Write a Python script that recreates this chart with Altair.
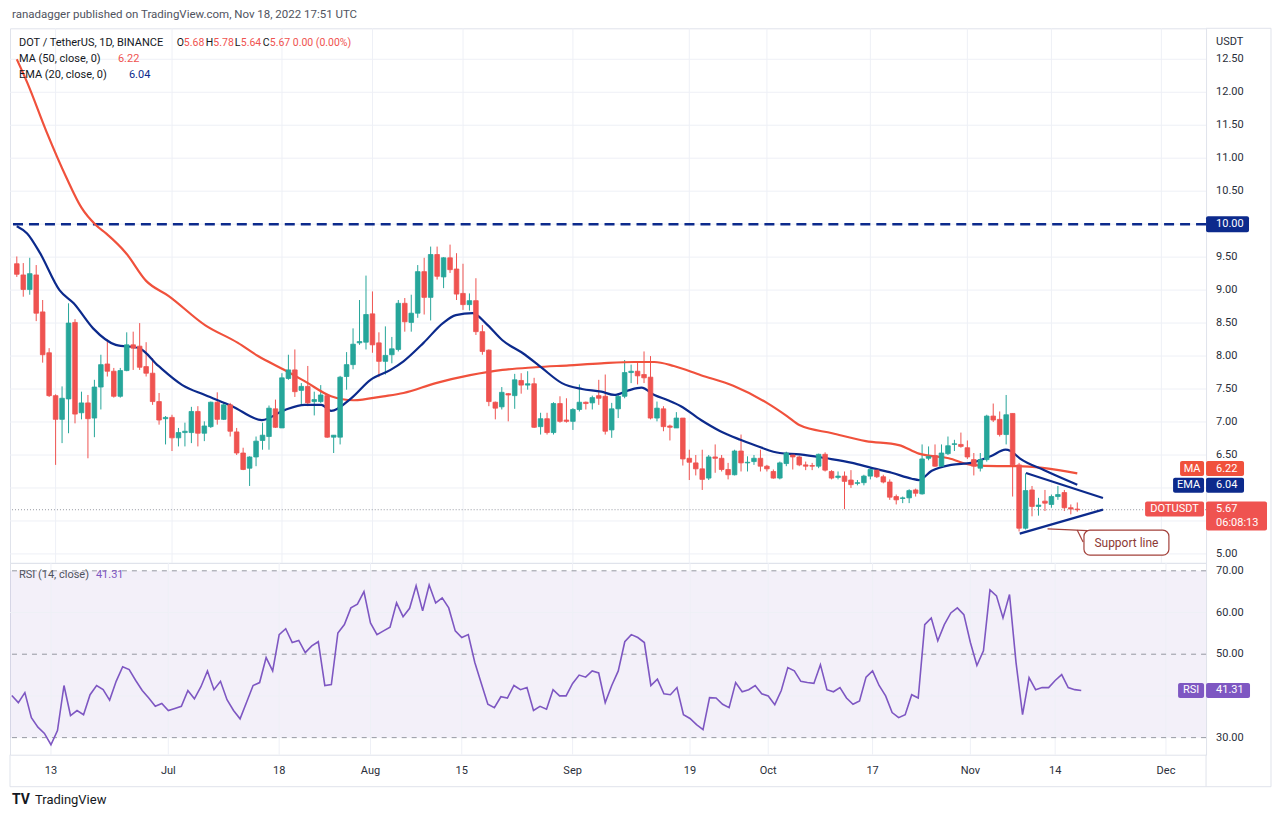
import altair as alt
import pandas as pd
import numpy as np

FONT = "Roboto"
GREEN = "#26a69a"
RED = "#ef5350"
MA_C = "#f0513c"
NAVY = "#0c2a8c"
PURPLE = "#7e57c2"
TXT = "#131722"
AXT = "#2a2e39"
FRAME = "#e0e3eb"
GRID = "#eef0f6"

START = "2022-06-07"

opens = [9.40, 9.23, 9.01, 9.23, 8.67, 8.05, 7.40, 7.04, 7.35, 8.51,
         7.14, 7.29, 7.06, 7.53, 7.88, 7.77, 7.39, 7.78, 8.17, 8.15,
         7.84, 7.74, 7.31, 7.05, 7.07, 6.76, 6.84, 6.84, 7.16, 6.83,
         6.93, 7.30, 7.04, 7.26, 6.85, 6.53, 6.30, 6.47, 6.72, 6.78,
         7.20, 6.91, 7.66, 7.79, 7.48, 7.54, 7.31, 7.31, 7.40, 6.77,
         6.77, 7.69, 7.87, 8.20, 8.21, 8.64, 8.20, 7.92, 8.02, 8.10,
         8.80, 8.51, 8.65, 9.28, 8.89, 9.54, 9.20, 9.49, 9.32, 8.95,
         8.78, 8.84, 8.37, 8.09, 7.30, 7.23, 7.43, 7.40, 7.63, 7.56,
         7.58, 6.93, 7.05, 6.84, 7.28, 7.03, 7.01, 7.19, 7.30, 7.29,
         7.40, 7.39, 6.88, 7.20, 7.39, 7.75, 7.77, 7.72, 7.68, 7.06,
         7.20, 6.94, 6.91, 7.06, 6.45, 6.38, 6.29, 6.15, 6.47, 6.45,
         6.28, 6.20, 6.56, 6.38, 6.40, 6.45, 6.33, 6.25, 6.15, 6.37,
         6.50, 6.47, 6.35, 6.34, 6.33, 6.51, 6.25, 6.16, 6.18, 6.12,
         6.07, 6.08, 6.18, 6.27, 6.17, 6.09, 5.87, 5.84, 5.85, 5.97,
         5.91, 6.45, 6.49, 6.33, 6.52, 6.66, 6.66, 6.61, 6.43, 6.30,
         6.43, 7.09, 7.04, 6.81, 7.13, 6.35, 5.39, 5.97, 5.72, 5.80,
         5.75, 5.87, 5.93, 5.70, 5.68]
highs = [9.51, 9.41, 9.49, 9.38, 8.85, 8.12, 7.42, 7.54, 8.80, 8.56,
         7.46, 7.41, 7.64, 8.02, 8.25, 7.82, 7.82, 8.36, 8.37, 8.50,
         8.21, 7.97, 7.44, 7.09, 7.11, 6.91, 6.99, 7.23, 7.24, 7.01,
         7.31, 7.45, 7.29, 7.29, 6.91, 6.61, 6.48, 6.78, 6.99, 7.25,
         7.34, 7.74, 8.02, 8.10, 7.59, 7.85, 7.46, 7.56, 7.41, 6.80,
         7.70, 8.06, 8.42, 8.85, 9.22, 8.98, 8.36, 8.45, 8.29, 8.85,
         8.88, 8.93, 9.38, 9.49, 9.66, 9.66, 9.50, 9.69, 9.56, 9.40,
         8.95, 9.18, 8.47, 8.10, 7.31, 7.53, 7.44, 7.73, 7.74, 7.77,
         7.67, 7.14, 7.14, 7.30, 7.39, 7.36, 7.21, 7.57, 7.31, 7.40,
         7.64, 7.72, 7.29, 7.44, 7.94, 7.87, 7.92, 8.07, 8.00, 7.31,
         7.24, 6.96, 7.15, 7.06, 6.58, 6.50, 6.58, 6.50, 6.66, 6.50,
         6.38, 6.58, 6.81, 6.48, 6.50, 6.58, 6.35, 6.28, 6.40, 6.55,
         6.53, 6.49, 6.40, 6.38, 6.52, 6.54, 6.27, 6.25, 6.25, 6.27,
         6.12, 6.20, 6.30, 6.30, 6.20, 6.13, 5.90, 5.87, 5.98, 5.99,
         6.66, 6.63, 6.66, 6.66, 6.78, 6.73, 6.84, 6.72, 6.53, 6.53,
         7.11, 7.28, 7.16, 7.41, 7.13, 6.38, 6.22, 6.03, 5.85, 5.97,
         5.90, 6.03, 5.97, 5.75, 5.78]
lows = [9.20, 8.90, 8.93, 8.53, 7.90, 7.38, 6.35, 6.68, 6.83, 6.98,
        7.04, 6.45, 6.77, 7.19, 7.69, 7.37, 7.37, 7.77, 7.79, 7.79,
        7.69, 7.26, 6.96, 6.66, 6.56, 6.63, 6.63, 6.68, 6.63, 6.71,
        6.91, 6.96, 7.03, 6.78, 6.50, 6.27, 6.03, 6.33, 6.58, 6.58,
        6.91, 6.91, 7.64, 7.38, 7.25, 7.24, 7.10, 7.29, 6.76, 6.53,
        6.66, 7.49, 7.80, 8.17, 8.10, 8.05, 7.68, 7.72, 7.89, 8.07,
        8.37, 8.37, 8.58, 8.63, 8.54, 9.16, 9.03, 9.26, 8.85, 8.70,
        8.69, 8.32, 8.02, 7.24, 7.04, 7.19, 7.01, 7.20, 7.43, 7.49,
        6.91, 6.81, 6.81, 6.81, 6.99, 6.99, 6.88, 7.16, 7.19, 7.19,
        7.26, 6.81, 6.76, 7.06, 7.36, 7.59, 7.57, 7.59, 7.04, 7.01,
        6.86, 6.72, 6.91, 6.34, 6.12, 6.19, 5.97, 6.12, 6.23, 6.25,
        6.13, 6.19, 6.25, 6.25, 6.35, 6.25, 6.25, 6.14, 6.13, 6.33,
        6.28, 6.33, 6.27, 6.27, 6.30, 6.25, 6.13, 6.13, 5.68, 6.00,
        6.04, 6.04, 6.13, 6.15, 6.07, 5.82, 5.75, 5.77, 5.77, 5.87,
        5.90, 6.42, 6.32, 6.32, 6.50, 6.56, 6.61, 6.44, 6.19, 6.25,
        6.40, 7.00, 6.78, 6.66, 5.87, 5.34, 5.37, 5.57, 5.58, 5.65,
        5.70, 5.82, 5.65, 5.60, 5.64]
closes = [9.24, 9.01, 9.25, 8.65, 8.02, 7.40, 7.04, 7.36, 8.50, 7.12,
          7.29, 7.05, 7.53, 7.87, 7.77, 7.39, 7.78, 8.17, 8.12, 7.83,
          7.74, 7.31, 7.03, 7.07, 6.76, 6.84, 6.86, 7.16, 6.83, 6.94,
          7.30, 7.04, 7.26, 6.86, 6.53, 6.28, 6.47, 6.71, 6.80, 7.21,
          6.92, 7.67, 7.79, 7.46, 7.54, 7.29, 7.34, 7.41, 6.77, 6.80,
          7.68, 7.87, 8.18, 8.22, 8.63, 8.17, 7.92, 8.01, 8.11, 8.80,
          8.52, 8.65, 9.28, 8.89, 9.54, 9.21, 9.49, 9.31, 8.94, 8.78,
          8.84, 8.37, 8.07, 7.31, 7.21, 7.45, 7.41, 7.64, 7.56, 7.58,
          6.92, 7.05, 6.84, 7.28, 7.01, 7.01, 7.19, 7.30, 7.28, 7.37,
          7.36, 6.86, 7.20, 7.39, 7.75, 7.77, 7.70, 7.67, 7.06, 7.21,
          6.93, 6.92, 7.06, 6.44, 6.39, 6.29, 6.13, 6.47, 6.45, 6.28,
          6.20, 6.56, 6.38, 6.39, 6.45, 6.33, 6.29, 6.15, 6.38, 6.53,
          6.47, 6.35, 6.33, 6.33, 6.51, 6.27, 6.15, 6.18, 6.10, 6.05,
          6.08, 6.18, 6.28, 6.17, 6.09, 5.86, 5.82, 5.85, 5.96, 5.92,
          6.44, 6.48, 6.33, 6.53, 6.64, 6.67, 6.63, 6.47, 6.33, 6.43,
          7.09, 7.03, 6.81, 7.11, 6.35, 5.39, 5.96, 5.72, 5.74, 5.77,
          5.87, 5.90, 5.70, 5.68, 5.67]
rsi_vals = [40.1, 38.4, 40.8, 34.8, 32.5, 31.0, 28.3, 31.7, 42.5, 35.3,
            36.5, 35.5, 40.3, 42.5, 41.5, 39.0, 43.5, 47.0, 46.3, 43.7,
            41.3, 39.5, 37.5, 38.2, 36.5, 37.0, 37.5, 41.3, 39.3, 42.2,
            46.0, 41.5, 43.5, 39.1, 36.5, 34.5, 38.5, 42.5, 43.2, 49.2,
            46.0, 54.7, 56.1, 52.8, 53.3, 50.4, 52.0, 53.0, 42.5, 42.7,
            55.1, 57.1, 61.1, 62.0, 65.0, 57.5, 54.7, 55.6, 56.5, 62.3,
            59.0, 61.0, 66.4, 60.4, 66.6, 62.3, 63.5, 61.1, 55.6, 54.0,
            54.7, 48.0, 43.0, 38.0, 37.2, 39.8, 39.5, 42.5, 41.5, 42.0,
            36.5, 37.5, 36.8, 41.5, 40.0, 40.0, 43.0, 45.0, 44.5, 46.0,
            45.5, 38.4, 42.5, 46.0, 53.0, 54.7, 54.0, 52.8, 42.5, 44.0,
            40.5, 40.3, 42.0, 35.5, 34.6, 33.1, 31.9, 39.6, 39.5, 38.0,
            37.2, 43.2, 41.0, 41.5, 42.5, 40.5, 40.0, 37.9, 41.3, 46.8,
            46.0, 43.5, 43.2, 43.0, 47.5, 41.5, 41.0, 42.0, 39.5, 38.0,
            38.8, 44.5, 46.0, 42.5, 40.0, 36.0, 34.8, 35.5, 40.3, 39.5,
            57.1, 58.7, 53.2, 57.1, 59.9, 61.1, 59.5, 52.8, 47.3, 50.8,
            65.4, 64.0, 58.7, 64.3, 48.0, 35.5, 44.4, 41.5, 42.0, 42.0,
            43.7, 45.1, 42.0, 41.5, 41.31]

# moving averages (day offset from START, value)
ma_days = [0, 1.6, 4.6, 7.7, 10, 12.3, 13.8, 16.9, 20, 23.5, 29.1, 34.2, 37.3, 41.4,
           44.5, 48.6, 52.1, 56.7, 59.8, 64.8, 70.1, 75.1, 80.2, 85.4, 90.4, 95.5,
           98.6, 101.6, 105.8, 110.8, 116, 119.1, 121.1, 126.1, 131.3, 136.4, 139.5,
           144.1, 147.6, 151.7, 154.8, 164]
ma_vals = [12.5, 12.15, 11.4, 10.7, 10.25, 9.98, 9.86, 9.56, 9.14, 8.91, 8.47, 8.20,
           8.00, 7.79, 7.62, 7.39, 7.33, 7.39, 7.44, 7.59, 7.71, 7.79, 7.83, 7.86,
           7.89, 7.91, 7.91, 7.85, 7.71, 7.55, 7.29, 7.09, 6.95, 6.83, 6.71, 6.65,
           6.52, 6.45, 6.35, 6.33, 6.33, 6.22]
ema_days = [0, 1.6, 3.6, 6.6, 8.8, 11.8, 15.3, 18.9, 21.9, 25.6, 29.1, 33.3, 37.9,
            41.4, 44.5, 47.1, 48.6, 51.7, 54.7, 57.8, 59.8, 62.9, 65.9, 67.9, 70.5,
            72.5, 75.1, 78.6, 81.2, 84.3, 87.4, 90.4, 92.4, 94.6, 96.6, 98.6, 100.7,
            102.7, 105.8, 108.8, 111.9, 114.9, 118, 121.1, 125.2, 129.2, 132.3, 135.3,
            138.4, 139.5, 141.5, 144.5, 147.6, 150.6, 152.9, 153.7, 155.1, 158.9, 164]
ema_vals = [9.97, 9.86, 9.56, 9.0, 8.80, 8.42, 8.17, 8.12, 7.85, 7.56, 7.41, 7.24,
            7.03, 7.18, 7.26, 7.26, 7.17, 7.36, 7.64, 7.79, 7.92, 8.20, 8.50, 8.62,
            8.65, 8.50, 8.24, 8.02, 7.82, 7.59, 7.50, 7.46, 7.41, 7.48, 7.52, 7.41,
            7.33, 7.24, 7.03, 6.86, 6.73, 6.62, 6.53, 6.51, 6.45, 6.38, 6.30, 6.23,
            6.14, 6.12, 6.26, 6.35, 6.38, 6.48, 6.58, 6.56, 6.45, 6.27, 6.05]

# drawn triangle (day offset, price)
tri_upper_days = [156.06, 167.97]
tri_upper_vals = [6.227, 5.848]
tri_lower_days = [155.1, 167.97]
tri_lower_vals = [5.308, 5.671]
# callout pointer lines and box
call_days_a = [159.4, 170.1]
call_vals_a = [5.379, 5.333]
call_days_b = [163.98, 164.9]
call_vals_b = [5.364, 5.18]
call_box_day = 171.6
call_box_val = 5.17

tick_dates = ["2022-06-13", "2022-07-01", "2022-07-18", "2022-08-01", "2022-08-15",
              "2022-09-01", "2022-09-19", "2022-10-01", "2022-10-17", "2022-11-01",
              "2022-11-14", "2022-12-01"]
tick_labels = ["13", "Jul", "18", "Aug", "15", "Sep", "19", "Oct", "17", "Nov", "14", "Dec"]
price_grid = [5.0, 5.5, 6.0, 6.5, 7.0, 7.5, 8.0, 8.5, 9.0, 9.5, 10.0, 10.5, 11.0,
              11.5, 12.0, 12.5]
# 5.50, 6.00 and 10.00 sit under the price tags on the axis
price_label_vals = [5.0, 6.5, 7.0, 7.5, 8.0, 8.5, 9.0, 9.5, 10.5, 11.0, 11.5, 12.0, 12.5]
rsi_label_vals = [30, 50, 60, 70]
rsi_grid = [40, 60]
rsi_levels = [30, 50, 70]

DAY = 86400000
T0 = int(pd.Timestamp(START).value // 10**6)


def ms(d):
    return T0 + d * DAY


W, H1, H2 = 1197, 535, 192
RIGHT = 1262
LX = 1207  # left edge of right-axis label text
xsc = alt.Scale(type="utc", domain=[ms(-0.28), ms(183.14)])
ysc = alt.Scale(domain=[4.864, 12.97], zero=False, nice=False)
rsc = alt.Scale(domain=[25.9, 71.9], zero=False, nice=False)
tick_ms = [int(pd.Timestamp(d).value // 10**6) for d in tick_dates]

n = len(closes)
candles = pd.DataFrame({"t": [ms(k) for k in range(n)], "o": opens, "h": highs,
                        "l": lows, "c": closes})
candles["dir"] = np.where(candles["c"] >= candles["o"], "up", "down")
cscale = alt.Scale(domain=["up", "down"], range=[GREEN, RED])

ma_df = pd.DataFrame({"t": [ms(d) for d in ma_days], "v": ma_vals})
ema_df = pd.DataFrame({"t": [ms(d) for d in ema_days], "v": ema_vals})
tri_df = pd.DataFrame({
    "seg": ["u", "u", "l", "l"],
    "t": [ms(d) for d in tri_upper_days + tri_lower_days],
    "v": tri_upper_vals + tri_lower_vals})
call_df = pd.DataFrame({
    "seg": ["a", "a", "b", "b"],
    "t": [ms(d) for d in call_days_a + call_days_b],
    "v": call_vals_a + call_vals_b})
rsi_df = pd.DataFrame({"t": [ms(k) for k in range(n)], "r": rsi_vals})
xt_df = pd.DataFrame({"t": tick_ms, "s": tick_labels})
one = pd.DataFrame({"a": [0]})


def XN(f="t:T"):
    return alt.X(f, scale=xsc, axis=None)


def YN(f, sc):
    return alt.Y(f, scale=sc, axis=None)


def text(x, y, s, color=TXT, size=11, align="left", weight="normal"):
    return alt.Chart(one).mark_text(
        align=align, baseline="middle", fontSize=size, font=FONT, color=color,
        fontWeight=weight).encode(x=alt.value(x), y=alt.value(y), text=alt.value(s))


def box(yval, xc, w, h, fill, sc, yoff=0):
    return alt.Chart(pd.DataFrame({"v": [yval]})).mark_tick(
        orient="horizontal", size=w, thickness=h, color=fill, opacity=1,
        cornerRadius=2, yOffset=yoff).encode(x=alt.value(xc), y=YN("v:Q", sc))


def box_text(yval, x, s, sc, align="left", yoff=0, size=11):
    return alt.Chart(pd.DataFrame({"v": [yval]})).mark_text(
        align=align, baseline="middle", fontSize=size, font=FONT, color="white",
        yOffset=yoff).encode(x=alt.value(x), y=YN("v:Q", sc), text=alt.value(s))


def vrule(x, y1, y2):
    return alt.Chart(one).mark_rule(color=FRAME, strokeWidth=1).encode(
        x=alt.value(x), y=alt.value(y1), y2=alt.value(y2))


def hrule(y, x1, x2):
    return alt.Chart(one).mark_rule(color=FRAME, strokeWidth=1).encode(
        y=alt.value(y), x=alt.value(x1), x2=alt.value(x2))


def hgrid(vals, sc):
    return alt.Chart(pd.DataFrame({"v": vals})).mark_rule(color=GRID, strokeWidth=1).encode(
        y=YN("v:Q", sc))


def vgrid():
    return alt.Chart(xt_df).mark_rule(color=GRID, strokeWidth=1).encode(x=XN())


def ylabels(vals, sc):
    return alt.Chart(pd.DataFrame({"v": vals})).mark_text(
        align="left", baseline="middle", fontSize=11, font=FONT, color=AXT).encode(
        x=alt.value(LX), y=YN("v:Q", sc), text=alt.Text("v:Q", format=".2f"))


# ---------------- price pane ----------------
wicks = alt.Chart(candles).mark_rule(strokeWidth=1, clip=True).encode(
    x=XN(), y=YN("l:Q", ysc), y2="h:Q",
    color=alt.Color("dir:N", scale=cscale, legend=None))
bodies = alt.Chart(candles).mark_bar(size=4.6, strokeWidth=0.8, clip=True).encode(
    x=XN(), y=YN("o:Q", ysc), y2="c:Q",
    color=alt.Color("dir:N", scale=cscale, legend=None),
    stroke=alt.Stroke("dir:N", scale=cscale, legend=None))

ten_line = alt.Chart(pd.DataFrame({"v": [10.0]})).mark_rule(
    color=NAVY, strokeWidth=2.5, strokeDash=[10, 6]).encode(y=YN("v:Q", ysc))
cur_line = alt.Chart(pd.DataFrame({"v": [5.67]})).mark_rule(
    color="#9598a1", strokeWidth=1, strokeDash=[1, 2]).encode(y=YN("v:Q", ysc))
ma_line = alt.Chart(ma_df).mark_line(color=MA_C, strokeWidth=2.2, interpolate="monotone",
                                     clip=True).encode(x=XN(), y=YN("v:Q", ysc))
ema_line = alt.Chart(ema_df).mark_line(color=NAVY, strokeWidth=2.2, interpolate="monotone",
                                       clip=True).encode(x=XN(), y=YN("v:Q", ysc))
tri = alt.Chart(tri_df).mark_line(color=NAVY, strokeWidth=2.2).encode(
    x=XN(), y=YN("v:Q", ysc), detail="seg:N")
call_lines = alt.Chart(call_df).mark_line(color="#a3413b", strokeWidth=1.2).encode(
    x=XN(), y=YN("v:Q", ysc), detail="seg:N")
call_pt = pd.DataFrame({"t": [ms(call_box_day)], "v": [call_box_val]})
call_box = alt.Chart(call_pt).mark_tick(
    orient="horizontal", size=85, thickness=25, fill="white", stroke="#a3413b",
    strokeWidth=1.2, cornerRadius=6, opacity=1).encode(x=XN(), y=YN("v:Q", ysc))
call_text = alt.Chart(call_pt).mark_text(fontSize=12, font=FONT, color="#8d3a35").encode(
    x=XN(), y=YN("v:Q", ysc), text=alt.value("Support line"))

price_layers = [
    hgrid(price_grid, ysc), vgrid(), ylabels(price_label_vals, ysc),
    wicks, ten_line, cur_line, ma_line, ema_line, bodies, tri, call_lines, call_box, call_text,
    box(10, 1218.5, 43, 16, NAVY, ysc), box_text(10, LX, "10.00", ysc),
    box(6.295, 1183, 24, 15, MA_C, ysc), box_text(6.295, 1183, "MA", ysc, align="center"),
    box(6.295, 1216, 38, 15, MA_C, ysc), box_text(6.295, LX, "6.22", ysc),
    box(6.04, 1179.5, 31, 15, NAVY, ysc), box_text(6.04, 1179.5, "EMA", ysc, align="center"),
    box(6.04, 1216, 38, 15, NAVY, ysc), box_text(6.04, LX, "6.04", ysc),
    box(5.68, 1165.5, 59, 15, RED, ysc), box_text(5.68, 1165.5, "DOTUSDT", ysc, align="center"),
    box(5.68, 1227.5, 61, 29, RED, ysc, yoff=7), box_text(5.68, LX, "5.67", ysc),
    box_text(5.68, LX, "06:08:13", ysc, yoff=14),
    text(LX, 14, "USDT", color=AXT),
    hrule(0, W, RIGHT),
    # header and legend
    text(2, -13, "ranadagger published on TradingView.com, Nov 18, 2022 17:51 UTC",
         color="#50535e", size=11.5),
    text(9, 15, "DOT / TetherUS, 1D, BINANCE"),
    text(167, 15, "O", size=10.5), text(174, 15, "5.68", RED, size=10.5),
    text(196, 15, "H", size=10.5), text(203.5, 15, "5.78", RED, size=10.5),
    text(225, 15, "L", size=10.5), text(231, 15, "5.64", RED, size=10.5),
    text(253, 15, "C", size=10.5), text(260, 15, "5.67", RED, size=10.5),
    text(283, 15, "0.00 (0.00%)", RED, size=10.5),
    text(9, 31, "MA (50, close, 0)"), text(108, 31, "6.22", RED),
    text(9, 47, "EMA (20, close, 0)"), text(119, 47, "6.04", NAVY),
]
price = alt.layer(*price_layers).properties(width=W, height=H1)

# ---------------- RSI pane ----------------
band = alt.Chart(pd.DataFrame({"a": [70], "b": [30]})).mark_rect(
    color=PURPLE, opacity=0.09).encode(
    x=alt.value(0), x2=alt.value(W), y=YN("a:Q", rsc), y2="b:Q")
levels = alt.Chart(pd.DataFrame({"lv": rsi_levels})).mark_rule(
    color="#9598a1", strokeWidth=1, strokeDash=[5, 5]).encode(y=YN("lv:Q", rsc))
rsi_line = alt.Chart(rsi_df).mark_line(color=PURPLE, strokeWidth=1.6, clip=True).encode(
    x=XN(), y=YN("r:Q", rsc))
xlabels = alt.Chart(xt_df).mark_text(
    align="center", baseline="middle", fontSize=11, font=FONT, color=AXT).encode(
    x=XN(), y=alt.value(H2 + 16), text="s:N")
rsi_layers = [
    band, hgrid(rsi_grid, rsc), vgrid(), levels, ylabels(rsi_label_vals, rsc), xlabels,
    rsi_line,
    box(41.31, 1182, 26, 15, PURPLE, rsc), box_text(41.31, 1182, "RSI", rsc, align="center"),
    box(41.31, 1219, 44, 15, PURPLE, rsc), box_text(41.31, LX, "41.31", rsc),
    text(9, 12, "RSI (14, close)", color="#50535e"), text(86, 12, "41.31", PURPLE),
    hrule(H2 + 32, 0, RIGHT), vrule(RIGHT, -H1, H2 + 32), vrule(0, H2, H2 + 32),
    vrule(W, H2, H2 + 32),
    text(2, H2 + 45, "TV", color="#131722", size=14, weight="bold"),
    text(25, H2 + 45, "TradingView", color="#131722", size=13),
]
rsi = alt.layer(*rsi_layers).properties(width=W, height=H2)

chart = alt.vconcat(price, rsi, spacing=0, bounds="flush", padding=0).configure(
    background="white", padding=0).configure_view(stroke=FRAME)

chart.save("out.html", embed_options={"renderer": "svg", "actions": False})
